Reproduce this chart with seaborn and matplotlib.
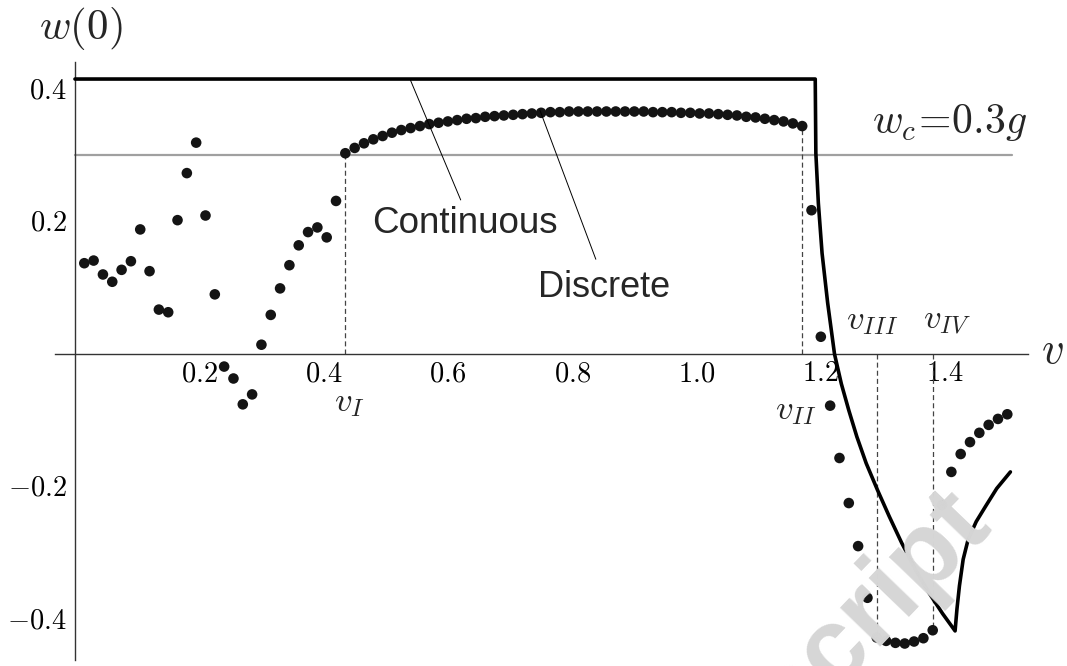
import numpy as np
import pandas as pd
import matplotlib
matplotlib.use("Agg")
import matplotlib.pyplot as plt
import seaborn as sns
from matplotlib.ticker import FixedLocator, FuncFormatter

# ---------------- data ----------------
# discrete model: one point every 0.015 in v
disc_v = np.round(np.arange(1, 101) * 0.015, 3)
disc_w = [
    0.137, 0.141, 0.120, 0.109, 0.127, 0.140, 0.188, 0.125, 0.067, 0.063,
    0.202, 0.273, 0.319, 0.209, 0.090, -0.019, -0.037, -0.076, -0.061, 0.014,
    0.059, 0.099, 0.134, 0.164, 0.184, 0.191, 0.176, 0.231, 0.303, 0.311,
    0.318, 0.324, 0.329, 0.334, 0.338, 0.341, 0.344, 0.347, 0.349, 0.351,
    0.353, 0.355, 0.356, 0.358, 0.359, 0.360, 0.361, 0.362, 0.363, 0.364,
    0.365, 0.365, 0.366, 0.366, 0.366, 0.366, 0.366, 0.366, 0.366, 0.366,
    0.366, 0.365, 0.365, 0.365, 0.364, 0.364, 0.363, 0.363, 0.362, 0.361,
    0.360, 0.358, 0.357, 0.355, 0.353, 0.351, 0.348, 0.344, 0.217, 0.026,
    -0.078, -0.157, -0.225, -0.290, -0.368, -0.428, -0.433, -0.436, -0.437, -0.434,
    -0.429, -0.417, -0.228, -0.178, -0.151, -0.133, -0.119, -0.107, -0.098, -0.091,
]

# continuous model
cont_v = [0.0, 1.191, 1.192, 1.196, 1.202, 1.211, 1.222, 1.233, 1.245, 1.258,
          1.273, 1.291, 1.310, 1.330, 1.352, 1.375, 1.396, 1.416, 1.419, 1.423,
          1.429, 1.437, 1.450, 1.465, 1.483, 1.505]
cont_w = [0.415, 0.415, 0.303, 0.228, 0.152, 0.077, 0.000, -0.045, -0.085, -0.125,
          -0.165, -0.205, -0.245, -0.285, -0.325, -0.362, -0.392, -0.418, -0.385, -0.350,
          -0.310, -0.280, -0.253, -0.230, -0.203, -0.178]

# critical level w_c = 0.3 g
wc_v = [0.0, 1.508]
wc_w = [0.3, 0.3]

# characteristic speeds (indices into the discrete series)
mark_idx = [28, 77, 85, 91]
mark_names = ["$v_I$", "$v_{II}$", "$v_{III}$", "$v_{IV}$"]

x_major = [0.2, 0.4, 0.6, 0.8, 1.0, 1.2, 1.4]
y_major = [-0.4, -0.2, 0.2, 0.4]

# ---------------- style ----------------
sns.set_theme(style="white")
plt.rcParams["font.family"] = ["Liberation Serif", "DejaVu Serif"]
plt.rcParams["mathtext.fontset"] = "cm"
plt.rcParams["axes.unicode_minus"] = True

fig = plt.figure(figsize=(10.67, 6.66), dpi=100)
ax = fig.add_axes([0.0515, 0.009, 0.912, 0.898])
ax.set_xlim(-0.0322, 1.5334)
ax.set_ylim(-0.4619, 0.4408)

# watermark (partly outside the page, as in the source)
fig.text(0.930, 0.213, "Manuscript", fontsize=76, fontweight="bold",
         family="Liberation Sans", color="#d6d6d6", rotation=46,
         rotation_mode="anchor", ha="right", va="baseline", zorder=0)

# w_c line
sns.lineplot(x=wc_v, y=wc_w, color="#a0a0a0", lw=1.6, ax=ax, zorder=2,
             sort=False, estimator=None)

# dashed markers
for i in mark_idx:
    ax.plot([disc_v[i], disc_v[i]], [0, disc_w[i]], ls=(0, (4, 2.5)),
            color="#444444", lw=0.9, zorder=2)

# continuous curve
sns.lineplot(x=cont_v, y=cont_w, color="black", lw=2.6, ax=ax, zorder=3,
             sort=False, estimator=None)

# discrete points
sns.scatterplot(x=disc_v, y=disc_w, s=58, color="#141414", edgecolor="none",
                linewidth=0, ax=ax, zorder=4)

# ---------------- axes (Mathematica style) ----------------
for s in ["top", "right"]:
    ax.spines[s].set_visible(False)
for s in ["left", "bottom"]:
    ax.spines[s].set_position(("data", 0))
    ax.spines[s].set_color("#333333")
    ax.spines[s].set_linewidth(1.0)

ax.xaxis.set_major_locator(FixedLocator(x_major))
ax.yaxis.set_major_locator(FixedLocator(y_major))
x_minor = [round(0.05 * i, 2) for i in range(1, 31)]
y_minor = [round(0.05 * i, 2) for i in range(-9, 9) if i != 0]
ax.xaxis.set_minor_locator(FixedLocator(x_minor))
ax.yaxis.set_minor_locator(FixedLocator(y_minor))
fmt = FuncFormatter(lambda x, p: f"${x:.1f}$")
ax.xaxis.set_major_formatter(fmt)
ax.yaxis.set_major_formatter(fmt)
ax.tick_params(which="major", direction="in", length=7.7, width=0.9,
               color="#333333", labelsize=20.5, pad=6, labelcolor="black")
ax.tick_params(which="minor", direction="in", length=4.3, width=0.9,
               color="#333333")
ax.grid(False)
ax.set_xlabel("")
ax.set_ylabel("")

# axis titles
fig.text(81 / 1067, 1 - 29 / 666, "$w(0)$", fontsize=31, ha="center", va="center")
ax.text(1.572, 0.003, "$v$", fontsize=32, ha="center", va="center", clip_on=False)

# labels
ax.text(1.283, 0.318, "$w_c\\!=\\!0.3g$", fontsize=30, ha="left", va="bottom")
label_pos = [(0.441, -0.073), (1.159, -0.085), (1.282, 0.05), (1.403, 0.05)]
for (lx, ly), name in zip(label_pos, mark_names):
    ax.text(lx, ly, name, fontsize=25, ha="center", va="center")

ax.text(0.6275, 0.197, "Continuous", family="Liberation Sans", fontsize=26.5,
        ha="center", va="center")
ax.text(0.851, 0.101, "Discrete", family="Liberation Sans", fontsize=26,
        ha="center", va="center")
ax.plot([0.539, 0.6206], [0.415, 0.2325], color="black", lw=0.7, zorder=5)
ax.plot([0.748, 0.838], [0.368, 0.143], color="black", lw=0.7, zorder=5)

fig.savefig("out.png", dpi=100)
